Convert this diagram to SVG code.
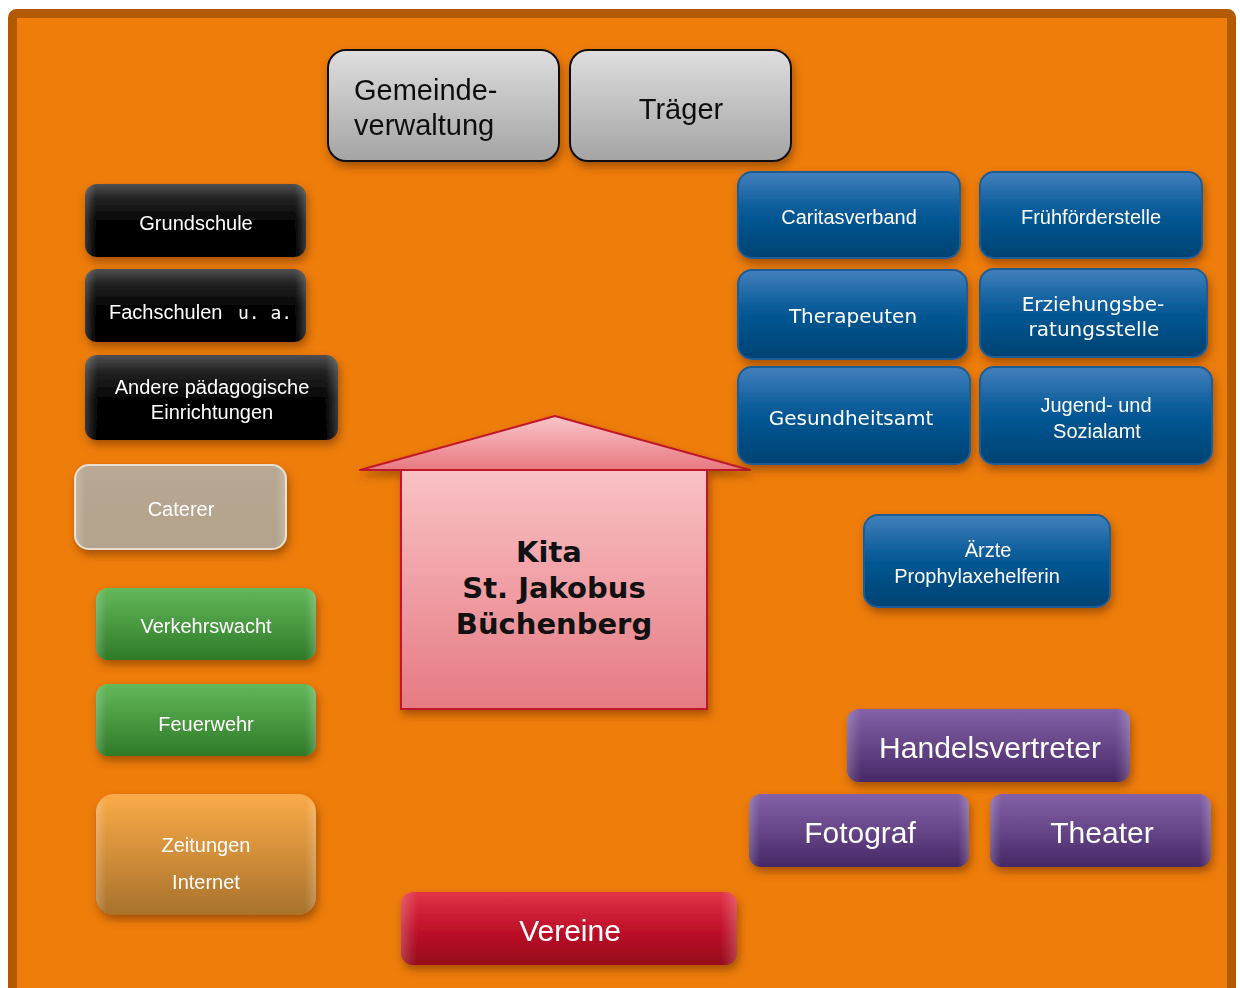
<svg xmlns="http://www.w3.org/2000/svg" width="1240" height="988" viewBox="0 0 1240 988">
<defs>
<filter id="sh" x="-10%" y="-20%" width="120%" height="150%"><feDropShadow dx="2" dy="5" stdDeviation="4" flood-color="#6a2f00" flood-opacity="0.55"/></filter>
<linearGradient id="gGray" x1="0" y1="0" x2="0" y2="1"><stop offset="0" stop-color="#dedede"/><stop offset="1" stop-color="#a4a4a4"/></linearGradient>
<linearGradient id="gBlack" x1="0" y1="0" x2="0" y2="1"><stop offset="0" stop-color="#505050"/><stop offset="0.2" stop-color="#222"/><stop offset="0.5" stop-color="#060606"/><stop offset="1" stop-color="#000"/></linearGradient>
<linearGradient id="gTan" x1="0" y1="0" x2="0" y2="1"><stop offset="0" stop-color="#b8a894"/><stop offset="1" stop-color="#b3a38c"/></linearGradient>
<linearGradient id="gGreen" x1="0" y1="0" x2="0" y2="1"><stop offset="0" stop-color="#63b85a"/><stop offset="1" stop-color="#2f7a28"/></linearGradient>
<linearGradient id="gOrange" x1="0" y1="0" x2="0" y2="1"><stop offset="0" stop-color="#fbab48"/><stop offset="1" stop-color="#a8722c"/></linearGradient>
<linearGradient id="gBlue" x1="0" y1="0" x2="0" y2="1"><stop offset="0" stop-color="#4380bc"/><stop offset="0.45" stop-color="#075a98"/><stop offset="1" stop-color="#004272"/></linearGradient>
<linearGradient id="gPurple" x1="0" y1="0" x2="0" y2="1"><stop offset="0" stop-color="#8462a8"/><stop offset="1" stop-color="#472866"/></linearGradient>
<linearGradient id="gRed" x1="0" y1="0" x2="0" y2="1"><stop offset="0" stop-color="#e23448"/><stop offset="0.5" stop-color="#c0122a"/><stop offset="1" stop-color="#960818"/></linearGradient>
<linearGradient id="gPink" x1="0" y1="0" x2="0" y2="1"><stop offset="0" stop-color="#f9c2c6"/><stop offset="1" stop-color="#e67a82"/></linearGradient>
<linearGradient id="gRoof" x1="0" y1="0" x2="0" y2="1"><stop offset="0" stop-color="#f9c6ca"/><stop offset="1" stop-color="#e87880"/></linearGradient>
<linearGradient id="gEdge" x1="0" y1="0" x2="1" y2="0"><stop offset="0" stop-color="#fff" stop-opacity="0.22"/><stop offset="0.025" stop-color="#fff" stop-opacity="0.1"/><stop offset="0.05" stop-color="#fff" stop-opacity="0"/><stop offset="0.95" stop-color="#fff" stop-opacity="0"/><stop offset="0.975" stop-color="#fff" stop-opacity="0.1"/><stop offset="1" stop-color="#fff" stop-opacity="0.22"/></linearGradient>
</defs>
<style>
.t{font-family:"Liberation Sans",Arial,sans-serif;fill:#fff;text-anchor:middle}
.v{font-family:"DejaVu Sans",Verdana,sans-serif;fill:#fff;text-anchor:middle}
.k{fill:#111}
.s{text-anchor:start}
.b{stroke:#1b5d96;stroke-width:2}
.g{stroke:#111;stroke-width:2}
</style>
<rect x="12.5" y="13.5" width="1219" height="990" rx="4" fill="#ee7d0a" stroke="#b15a02" stroke-width="9"/>

<g id="gemeindeverwaltung" filter="url(#sh)"><rect x="328" y="50" width="231" height="111" rx="18" fill="url(#gGray)" class="g"/><text class="t k s" x="354" y="100" font-size="29">Gemeinde-</text><text class="t k s" x="354" y="135" font-size="29">verwaltung</text></g>
<g id="traeger" filter="url(#sh)"><rect x="570" y="50" width="221" height="111" rx="18" fill="url(#gGray)" class="g"/><text class="t k" x="681" y="119" font-size="29">Träger</text></g>

<g id="grundschule" filter="url(#sh)"><rect x="85" y="184" width="221" height="73" rx="12" fill="url(#gBlack)"/><rect x="85" y="184" width="221" height="73" rx="12" fill="url(#gEdge)"/><text class="t" x="196" y="230" font-size="20">Grundschule</text></g>
<g id="fachschulen" filter="url(#sh)"><rect x="85" y="269" width="221" height="73" rx="12" fill="url(#gBlack)"/><rect x="85" y="269" width="221" height="73" rx="12" fill="url(#gEdge)"/><text class="t s" x="109" y="319" font-size="20">Fachschulen<tspan x="238" font-family="DejaVu Sans Mono,monospace" font-size="18">u. a.</tspan></text></g>
<g id="andere" filter="url(#sh)"><rect x="85" y="355" width="253" height="85" rx="12" fill="url(#gBlack)"/><rect x="85" y="355" width="253" height="85" rx="12" fill="url(#gEdge)"/><text class="t" x="212" y="394" font-size="20">Andere pädagogische</text><text class="t" x="212" y="419" font-size="20">Einrichtungen</text></g>

<g id="caterer" filter="url(#sh)"><rect x="75" y="465" width="211" height="84" rx="14" fill="url(#gTan)" stroke="#e8ddd0" stroke-width="2"/><rect x="75" y="465" width="211" height="84" rx="14" fill="url(#gEdge)"/><text class="t" x="181" y="516" font-size="20">Caterer</text></g>
<g id="verkehrswacht" filter="url(#sh)"><rect x="96" y="588" width="220" height="72" rx="12" fill="url(#gGreen)"/><rect x="96" y="588" width="220" height="72" rx="12" fill="url(#gEdge)"/><text class="t" x="206" y="633" font-size="20">Verkehrswacht</text></g>
<g id="feuerwehr" filter="url(#sh)"><rect x="96" y="684" width="220" height="72" rx="12" fill="url(#gGreen)"/><rect x="96" y="684" width="220" height="72" rx="12" fill="url(#gEdge)"/><text class="t" x="206" y="731" font-size="20">Feuerwehr</text></g>
<g id="zeitungen" filter="url(#sh)"><rect x="96" y="794" width="220" height="121" rx="18" fill="url(#gOrange)"/><rect x="96" y="794" width="220" height="121" rx="18" fill="url(#gEdge)"/><text class="t" x="206" y="852" font-size="20">Zeitungen</text><text class="t" x="206" y="889" font-size="20">Internet</text></g>

<g id="kita"><g filter="url(#sh)"><rect x="401" y="470" width="306" height="239" fill="url(#gPink)" stroke="#c0182a" stroke-width="2"/><polygon points="360,470 555,416 750,470" fill="url(#gRoof)" stroke="#c0182a" stroke-width="2" stroke-linejoin="round"/></g><text class="v k" x="549" y="562" font-size="29" font-weight="bold">Kita</text><text class="v k" x="554" y="598" font-size="29" font-weight="bold">St. Jakobus</text><text class="v k" x="554" y="634" font-size="29" font-weight="bold">Büchenberg</text></g>

<g id="caritasverband" filter="url(#sh)"><rect x="738" y="172" width="222" height="86" rx="14" fill="url(#gBlue)" class="b"/><text class="t" x="849" y="224" font-size="20">Caritasverband</text></g>
<g id="fruehfoerderstelle" filter="url(#sh)"><rect x="980" y="172" width="222" height="86" rx="14" fill="url(#gBlue)" class="b"/><text class="t" x="1091" y="224" font-size="20">Frühförderstelle</text></g>
<g id="therapeuten" filter="url(#sh)"><rect x="738" y="270" width="229" height="89" rx="14" fill="url(#gBlue)" class="b"/><text class="v" x="853" y="323" font-size="20">Therapeuten</text></g>
<g id="erziehungsberatungsstelle" filter="url(#sh)"><rect x="980" y="269" width="227" height="88" rx="14" fill="url(#gBlue)" class="b"/><text class="v" x="1093" y="311" font-size="20">Erziehungsbe-</text><text class="v" x="1094" y="336" font-size="20">ratungsstelle</text></g>
<g id="gesundheitsamt" filter="url(#sh)"><rect x="738" y="367" width="232" height="97" rx="14" fill="url(#gBlue)" class="b"/><text class="v" x="851" y="425" font-size="20">Gesundheitsamt</text></g>
<g id="jugendamt" filter="url(#sh)"><rect x="980" y="367" width="232" height="97" rx="14" fill="url(#gBlue)" class="b"/><text class="t" x="1096" y="412" font-size="20">Jugend- und</text><text class="t" x="1097" y="438" font-size="20">Sozialamt</text></g>
<g id="aerzte" filter="url(#sh)"><rect x="864" y="515" width="246" height="92" rx="14" fill="url(#gBlue)" class="b"/><text class="t" x="988" y="557" font-size="20">Ärzte</text><text class="t" x="977" y="583" font-size="20">Prophylaxehelferin</text></g>

<g id="handelsvertreter" filter="url(#sh)"><rect x="847" y="709" width="283" height="73" rx="12" fill="url(#gPurple)"/><rect x="847" y="709" width="283" height="73" rx="12" fill="url(#gEdge)"/><text class="t" x="990" y="758" font-size="30">Handelsvertreter</text></g>
<g id="fotograf" filter="url(#sh)"><rect x="749" y="794" width="220" height="73" rx="12" fill="url(#gPurple)"/><rect x="749" y="794" width="220" height="73" rx="12" fill="url(#gEdge)"/><text class="t" x="860" y="843" font-size="30">Fotograf</text></g>
<g id="theater" filter="url(#sh)"><rect x="990" y="794" width="221" height="73" rx="12" fill="url(#gPurple)"/><rect x="990" y="794" width="221" height="73" rx="12" fill="url(#gEdge)"/><text class="t" x="1102" y="843" font-size="30">Theater</text></g>

<g id="vereine" filter="url(#sh)"><rect x="401" y="892" width="336" height="73" rx="12" fill="url(#gRed)"/><rect x="401" y="892" width="336" height="73" rx="12" fill="url(#gEdge)"/><text class="t" x="570" y="941" font-size="30">Vereine</text></g>

<g id="connectors"/>
</svg>
